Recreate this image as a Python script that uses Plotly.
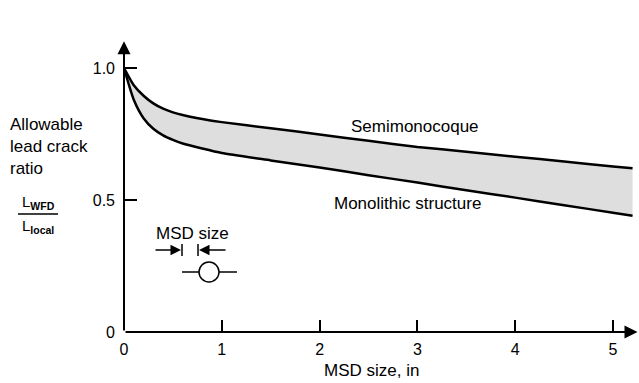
import plotly.graph_objects as go

# ---- data ----
msd_size = [0, 0.1, 0.2, 0.3, 0.4, 0.5, 0.6, 0.8, 1.0, 1.5, 2.0, 2.5, 3.0, 3.5, 4.0, 4.5, 5.0, 5.2]
semimonocoque = [1.0, 0.935, 0.895, 0.866, 0.846, 0.832, 0.822, 0.807, 0.795, 0.772, 0.748,
                 0.724, 0.701, 0.683, 0.664, 0.646, 0.627, 0.62]
monolithic = [1.0, 0.88, 0.81, 0.77, 0.745, 0.728, 0.714, 0.695, 0.678, 0.65, 0.623,
              0.594, 0.566, 0.537, 0.509, 0.48, 0.452, 0.44]
x_ticks = [0, 1, 2, 3, 4, 5]
y_ticks = [0, 0.5, 1.0]
y_ticktext = ["0", "0.5", "1.0"]

W, H = 639, 383
ML, MR, MT, MB = 124, 1, 40, 51
PW, PH = W - ML - MR, H - MT - MB
X_MAX = PW / 97.8
Y_MAX = PH / 264.0

def px(xp):
    return (xp - ML) / PW

def py(yp):
    return (H - MB - yp) / PH

FONT = "Liberation Sans, Arial, Helvetica, sans-serif"
TS = 17

fig = go.Figure()
fig.add_trace(go.Scatter(x=msd_size, y=monolithic, mode="lines",
                         line=dict(color="black", width=2.5, shape="spline", smoothing=0.6),
                         hoverinfo="skip", showlegend=False))
fig.add_trace(go.Scatter(x=msd_size, y=semimonocoque, mode="lines", fill="tonexty",
                         fillcolor="#dedede",
                         line=dict(color="black", width=2.5, shape="spline", smoothing=0.6),
                         hoverinfo="skip", showlegend=False))

fig.update_layout(
    width=W, height=H,
    margin=dict(l=ML, r=MR, t=MT, b=MB, pad=0),
    paper_bgcolor="white", plot_bgcolor="white",
    font=dict(family=FONT, size=16, color="black"),
    xaxis=dict(range=[0, X_MAX], tickvals=x_ticks, ticks="inside", ticklen=12,
               tickwidth=1.5, tickcolor="black", showgrid=False, zeroline=False,
               showline=False, ticklabelstandoff=6, tickfont=dict(size=16)),
    yaxis=dict(range=[0, Y_MAX], tickvals=y_ticks, ticktext=y_ticktext, ticks="inside",
               ticklen=13, tickwidth=1.5, tickcolor="black", showgrid=False,
               zeroline=False, showline=False, ticklabelstandoff=8, tickfont=dict(size=16)),
)

def label(xp, yp, text, **kw):
    d = dict(x=px(xp), y=py(yp), xref="paper", yref="paper", text=text,
             showarrow=False, xanchor="center", yanchor="middle", font=dict(size=TS))
    d.update(kw)
    return d

annotations = []
# axis arrows
annotations.append(dict(x=X_MAX - 0.005, y=0, ax=0, ay=0, xref="x", yref="y", axref="x", ayref="y",
                        text="", showarrow=True, arrowhead=2, arrowsize=1.3, arrowwidth=2,
                        arrowcolor="black", standoff=0))
annotations.append(dict(x=0, y=Y_MAX - 0.005, ax=0, ay=0, xref="x", yref="y", axref="x", ayref="y",
                        text="", showarrow=True, arrowhead=2, arrowsize=1.3, arrowwidth=2,
                        arrowcolor="black", standoff=0))
# curve labels
annotations.append(label(415, 127, "Semimonocoque"))
annotations.append(label(407, 203, "Monolithic structure"))
# axis title
annotations.append(label(371, 370, "MSD size, in"))
# y label
annotations.append(label(8, 146, "Allowable<br>lead crack<br>ratio", align="left", xanchor="left"))
annotations.append(label(20, 202, "L<sub><b>WFD</b></sub>", xanchor="left", font=dict(size=15)))
annotations.append(label(20, 226, "L<sub><b>local</b></sub>", xanchor="left", font=dict(size=15)))
# MSD size schematic
annotations.append(label(192, 233, "MSD size"))
annotations.append(dict(x=px(181), y=py(250), ax=-27, ay=0, xref="paper", yref="paper",
                        axref="pixel", ayref="pixel", text="", showarrow=True, arrowhead=2,
                        arrowsize=1.4, arrowwidth=1.5, arrowcolor="black", standoff=0))
annotations.append(dict(x=px(199), y=py(250), ax=28, ay=0, xref="paper", yref="paper",
                        axref="pixel", ayref="pixel", text="", showarrow=True, arrowhead=2,
                        arrowsize=1.4, arrowwidth=1.5, arrowcolor="black", standoff=0))
fig.update_layout(annotations=annotations)

shapes = []
lw = dict(color="black", width=1.5)
shapes.append(dict(type="line", xref="paper", yref="paper", x0=px(18), x1=px(58),
                   y0=py(214), y1=py(214), line=lw))
shapes.append(dict(type="line", xref="paper", yref="paper", x0=px(182), x1=px(182),
                   y0=py(244), y1=py(256), line=lw))
shapes.append(dict(type="line", xref="paper", yref="paper", x0=px(198), x1=px(198),
                   y0=py(244), y1=py(256), line=lw))
shapes.append(dict(type="circle", xref="paper", yref="paper", x0=px(199), x1=px(219),
                   y0=py(262), y1=py(282), line=lw, fillcolor="white"))
shapes.append(dict(type="line", xref="paper", yref="paper", x0=px(182), x1=px(199),
                   y0=py(272), y1=py(272), line=lw))
shapes.append(dict(type="line", xref="paper", yref="paper", x0=px(219), x1=px(237),
                   y0=py(272), y1=py(272), line=lw))
fig.update_layout(shapes=shapes)

fig.write_html("out.html")
